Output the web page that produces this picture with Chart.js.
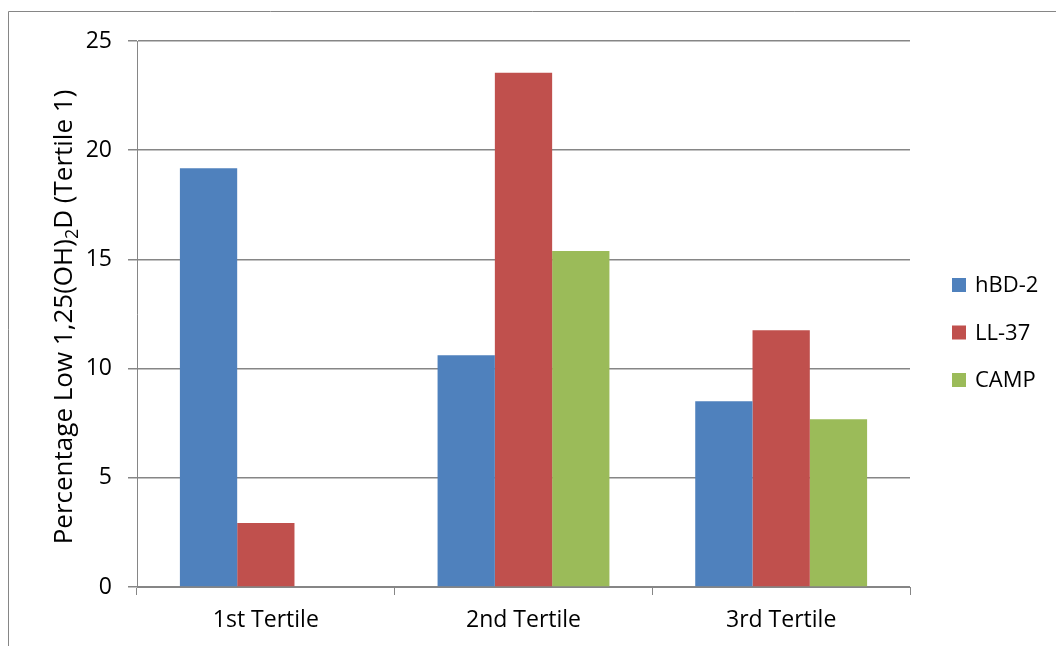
<!DOCTYPE html>
<html>
<head>
<meta charset="utf-8">
<script src="https://cdn.jsdelivr.net/npm/chart.js@4.4.1/dist/chart.umd.min.js"></script>
<style>
  html, body { margin: 0; padding: 0; background: #ffffff; }
  #wrap { width: 1056px; height: 646px; position: relative; }
</style>
</head>
<body>
<div id="wrap"><canvas id="c" width="1056" height="646"></canvas></div>
<script>
// Categories and series
const categories = ['1st Tertile', '2nd Tertile', '3rd Tertile'];
const hbd2 = [19.17, 10.61, 8.51];
const ll37 = [2.93, 23.55, 11.76];
const camp = [0, 15.38, 7.68];
const yTicks = [0, 5, 10, 15, 20, 25];

const FONT = '"Open Sans", Lato, sans-serif';
const GRID = '#868686';

// Outer frame, y-axis title (with subscript) and the legend at the right
const decor = {
  id: 'decor',
  beforeDraw(chart) {
    const ctx = chart.ctx;
    ctx.save();
    ctx.strokeStyle = GRID;
    ctx.lineWidth = 1;
    ctx.beginPath();
    ctx.moveTo(8.5, 700);
    ctx.lineTo(8.5, 11.5);
    ctx.lineTo(1100, 11.5);
    ctx.stroke();
    ctx.restore();
  },
  afterDraw(chart) {
    const ctx = chart.ctx;
    const a = chart.chartArea;

    // rotated axis title
    const parts = [
      { t: 'Percentage Low 1,25(OH)', size: 26, dy: 0 },
      { t: '2', size: 18, dy: 6 },
      { t: 'D (Tertile 1)', size: 26, dy: 0 }
    ];
    ctx.save();
    let total = 0;
    parts.forEach(p => { ctx.font = p.size + 'px ' + FONT; p.w = ctx.measureText(p.t).width; total += p.w; });
    ctx.translate(72, (a.top + a.bottom) / 2 + 3);
    ctx.rotate(-Math.PI / 2);
    ctx.fillStyle = '#000';
    ctx.textBaseline = 'alphabetic';
    let x = -total / 2;
    parts.forEach(p => {
      ctx.font = p.size + 'px ' + FONT;
      ctx.fillText(p.t, x, p.dy);
      x += p.w;
    });
    ctx.restore();

    // legend
    ctx.save();
    ctx.font = '22px ' + FONT;
    ctx.textBaseline = 'middle';
    const ds = chart.data.datasets;
    const step = 47.5;
    const y0 = 285;
    ds.forEach((d, i) => {
      const cy = y0 + i * step;
      ctx.fillStyle = d.backgroundColor;
      ctx.fillRect(952, cy - 7, 14, 14);
      ctx.fillStyle = '#000';
      ctx.fillText(d.label, 975, cy + 1);
    });
    ctx.restore();
  }
};

new Chart(document.getElementById('c'), {
  type: 'bar',
  data: {
    labels: categories,
    datasets: [
      { label: 'hBD-2', data: hbd2, backgroundColor: '#4F81BD' },
      { label: 'LL-37', data: ll37, backgroundColor: '#C0504D' },
      { label: 'CAMP', data: camp, backgroundColor: '#9BBB59' }
    ]
  },
  options: {
    responsive: false,
    animation: false,
    devicePixelRatio: 1,
    layout: { padding: { top: 41, right: 146, bottom: 0, left: 0 } },
    datasets: { bar: { categoryPercentage: 0.667, barPercentage: 1.0, borderWidth: 0 } },
    scales: {
      x: {
        afterFit(s) { s.height = 59; },
        grid: { offset: true, drawOnChartArea: false, color: GRID, tickLength: 8, lineWidth: 1 },
        border: { color: GRID, width: 1 },
        ticks: { color: '#000', font: { family: FONT, size: 23 }, padding: 12 }
      },
      y: {
        min: 0, max: 25,
        afterFit(s) { s.width = 137; },
        afterBuildTicks(s) { s.ticks = yTicks.map(v => ({ value: v })); },
        grid: { color: GRID, tickLength: 9, lineWidth: 1.5 },
        border: { color: GRID, width: 1 },
        ticks: { color: '#000', font: { family: FONT, size: 23 }, padding: 16 }
      }
    },
    plugins: {
      legend: { display: false },
      tooltip: { enabled: false }
    }
  },
  plugins: [decor]
});
</script>
</body>
</html>
